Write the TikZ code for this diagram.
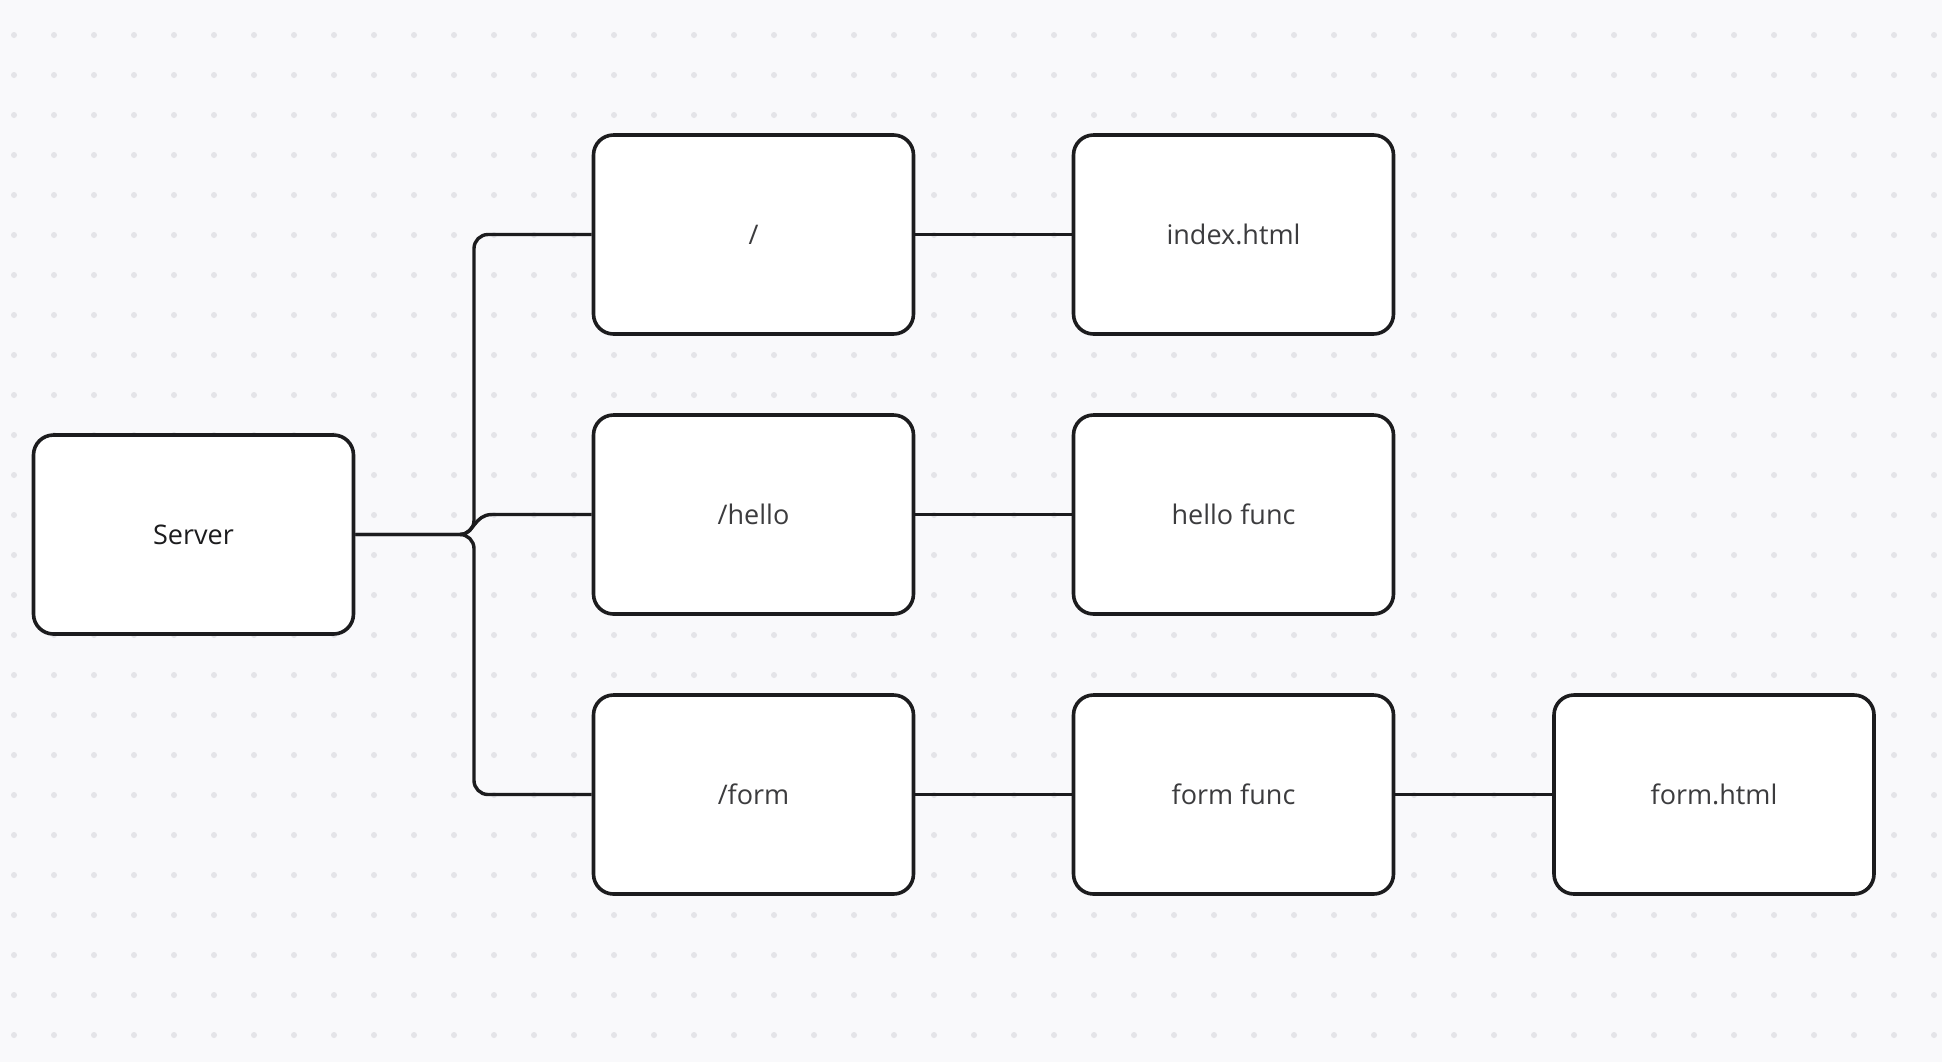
\documentclass[tikz,border=0pt]{standalone}
\usepackage{fontspec}
\setmainfont{Open Sans}
\usetikzlibrary{calc}
\definecolor{bg}{HTML}{F9F9FB}
\definecolor{dot}{HTML}{E4E4E8}
\definecolor{ink}{HTML}{1C1C1E}
\definecolor{label}{HTML}{3C3C3E}

\begin{document}
\begin{tikzpicture}[x=0.5pt,y=-0.5pt,
  box/.style={draw=ink, line width=1.8pt, fill=white, rounded corners=10pt,
    minimum width=160pt, minimum height=99.5pt, inner sep=0pt,
    text=label, font=\fontsize{13.5pt}{16pt}\selectfont},
  wire/.style={draw=ink, line width=1.7pt}]
\fill[bg] (0,0) rectangle (1942,1062);
\useasboundingbox (0,0) rectangle (1942,1062);
\foreach \i in {0,...,48}
  \foreach \j in {0,...,25}
    \fill[dot] (14+40*\i,35+40*\j) circle (1.5pt);

\node[box, text=ink] (server) at (193.5,534.5){Server};
\node[box] (root) at (753.5,234.5){/};
\node[box] (hello) at (753.5,514.5){/hello};
\node[box] (form) at (753.5,794.5){/form};
\node[box] (index) at (1233.5,234.5){index.html};
\node[box] (hellofunc) at (1233.5,514.5){hello func};
\node[box] (formfunc) at (1233.5,794.5){form func};
\node[box] (formhtml) at (1714,794.5){form.html};

\coordinate (hub) at (474,534.5);
\draw[wire, rounded corners=7pt] (server.east) -- (hub) -- (hub |- root) -- (root.west);
\draw[wire, rounded corners=7pt] (server.east) -- (hub) -- (hub |- form) -- (form.west);
\draw[wire] (460,534.5) .. controls (474,534.5) and (474,514.5) .. (492,514.5) -- (hello.west);
\draw[wire] (root) -- (index);
\draw[wire] (hello) -- (hellofunc);
\draw[wire] (form) -- (formfunc);
\draw[wire] (formfunc) -- (formhtml);
\end{tikzpicture}
\end{document}
